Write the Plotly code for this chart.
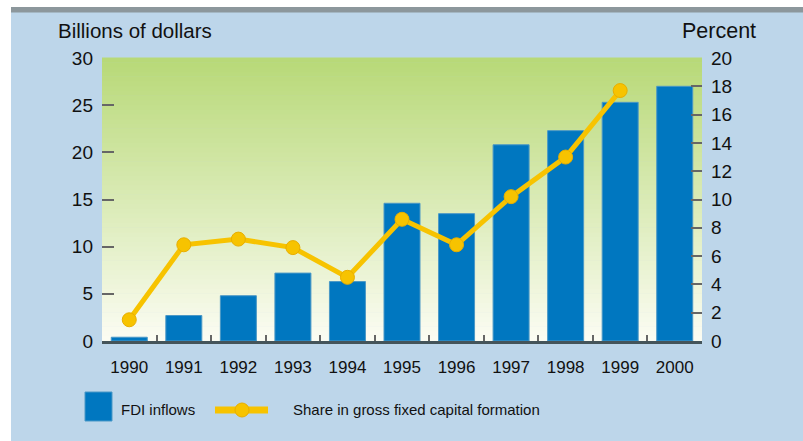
import plotly.graph_objects as go

years = ["1990", "1991", "1992", "1993", "1994", "1995", "1996", "1997", "1998", "1999", "2000"]
fdi_inflows = [0.4, 2.7, 4.8, 7.2, 6.3, 14.6, 13.5, 20.8, 22.3, 25.3, 27.0]
share_years = ["1990", "1991", "1992", "1993", "1994", "1995", "1996", "1997", "1998", "1999"]
share_gfcf = [1.5, 6.8, 7.2, 6.6, 4.5, 8.6, 6.8, 10.2, 13.0, 17.7]

left_ticks = [0, 5, 10, 15, 20, 25, 30]
right_ticks = [0, 2, 4, 6, 8, 10, 12, 14, 16, 18, 20]

W, H = 803, 441
ML, MR, MT, MB = 102, 101, 58, 100
PW = W - ML - MR
PH = H - MT - MB

def px(x):
    return (x - ML) / PW

def py(y):
    return (H - MB - y) / PH

FONT = "Liberation Sans, Arial, sans-serif"
BLUE_BG = "#BDD6EA"
BAR = "#0077C0"
GOLD = "#F7C300"

fig = go.Figure()
fig.add_trace(go.Bar(
    x=years, y=fdi_inflows, name="FDI inflows",
    marker=dict(color=BAR, line=dict(color="#4B98C6", width=1)),
    yaxis="y", showlegend=False,
))
fig.add_trace(go.Scatter(
    x=share_years, y=share_gfcf, name="Share in gross fixed capital formation",
    mode="lines+markers",
    line=dict(color=GOLD, width=5),
    marker=dict(color=GOLD, size=14, line=dict(color="#E8AE00", width=1)),
    yaxis="y2", showlegend=False,
))

shapes = []
# gradient background of plot area
N = 60
top = (184, 217, 120)
bot = (251, 252, 242)
for i in range(N):
    t = i / (N - 1)
    c = tuple(round(bot[k] + (top[k] - bot[k]) * t) for k in range(3))
    shapes.append(dict(type="rect", xref="x domain", yref="y domain",
                       x0=0, x1=1, y0=i / N, y1=(i + 1) / N + 0.002,
                       fillcolor="rgb(%d,%d,%d)" % c, line=dict(width=0), layer="below"))
# white margins and grey top bar
shapes.append(dict(type="rect", xref="paper", yref="paper", x0=px(-5), x1=px(11), y0=py(H + 5), y1=py(-5),
                   fillcolor="white", line=dict(width=0), layer="below"))
shapes.append(dict(type="rect", xref="paper", yref="paper", x0=px(-5), x1=px(W + 5), y0=py(7), y1=py(-5),
                   fillcolor="white", line=dict(width=0), layer="below"))
shapes.append(dict(type="rect", xref="paper", yref="paper", x0=px(11), x1=px(W + 5), y0=py(12.5), y1=py(7),
                   fillcolor="#8C979C", line=dict(width=0), layer="below"))
# legend symbols
shapes.append(dict(type="rect", xref="paper", yref="paper", x0=px(85), x1=px(112), y0=py(421), y1=py(392),
                   fillcolor=BAR, line=dict(color="#4B98C6", width=1)))
shapes.append(dict(type="line", xref="paper", yref="paper", x0=px(215), x1=px(268), y0=py(410), y1=py(410),
                   line=dict(color=GOLD, width=7)))
shapes.append(dict(type="circle", xref="paper", yref="paper", x0=px(235), x1=px(249), y0=py(417), y1=py(403),
                   fillcolor=GOLD, line=dict(color="#E8AE00", width=1)))

annotations = [
    dict(text="Billions of dollars", xref="paper", yref="paper", x=px(56), y=py(31),
         xanchor="left", yanchor="middle", showarrow=False, font=dict(size=20.5, color="#111", family=FONT)),
    dict(text="Percent", xref="paper", yref="paper", x=px(758), y=py(31),
         xanchor="right", yanchor="middle", showarrow=False, font=dict(size=21.5, color="#111", family=FONT)),
    dict(text="FDI inflows", xref="paper", yref="paper", x=px(119), y=py(409),
         xanchor="left", yanchor="middle", showarrow=False, font=dict(size=15, color="#111", family=FONT)),
    dict(text="Share in gross fixed capital formation", xref="paper", yref="paper", x=px(291), y=py(409),
         xanchor="left", yanchor="middle", showarrow=False, font=dict(size=15, color="#111", family=FONT)),
]

fig.update_layout(
    width=W, height=H,
    margin=dict(l=ML, r=MR, t=MT, b=MB, pad=0),
    paper_bgcolor=BLUE_BG, plot_bgcolor="rgba(0,0,0,0)",
    bargap=0.34,
    font=dict(family=FONT, color="#111"),
    shapes=shapes, annotations=annotations,
    xaxis=dict(type="category", categoryorder="array", categoryarray=years,
               showgrid=False, zeroline=False, showline=True, linecolor="#44545A", linewidth=3,
               ticks="inside", tickson="boundaries", ticklen=6, tickwidth=2, tickcolor="#666",
               tickfont=dict(size=17, color="#111"), ticklabelstandoff=9, range=[-0.5, 10.5]),
    yaxis=dict(range=[0, 30], tickvals=left_ticks, ticktext=[str(v) for v in left_ticks],
               showgrid=False, zeroline=False, showline=False,
               ticks="inside", ticklen=12, tickwidth=2, tickcolor="#666",
               tickfont=dict(size=19, color="#111"), ticklabelstandoff=8),
    yaxis2=dict(range=[0, 20], tickvals=right_ticks, ticktext=[str(v) for v in right_ticks],
                overlaying="y", side="right",
                showgrid=False, zeroline=False, showline=False,
                ticks="inside", ticklen=11, tickwidth=2, tickcolor="#666",
                tickfont=dict(size=19, color="#111"), ticklabelstandoff=8),
)

fig.write_html("out.html", config={"displayModeBar": False})
with open("out.html", "r", encoding="utf-8") as f:
    html = f.read()
html = html.replace("<head>", "<head><style>html,body{margin:0;padding:0;overflow:hidden;}</style>", 1)
with open("out.html", "w", encoding="utf-8") as f:
    f.write(html)
